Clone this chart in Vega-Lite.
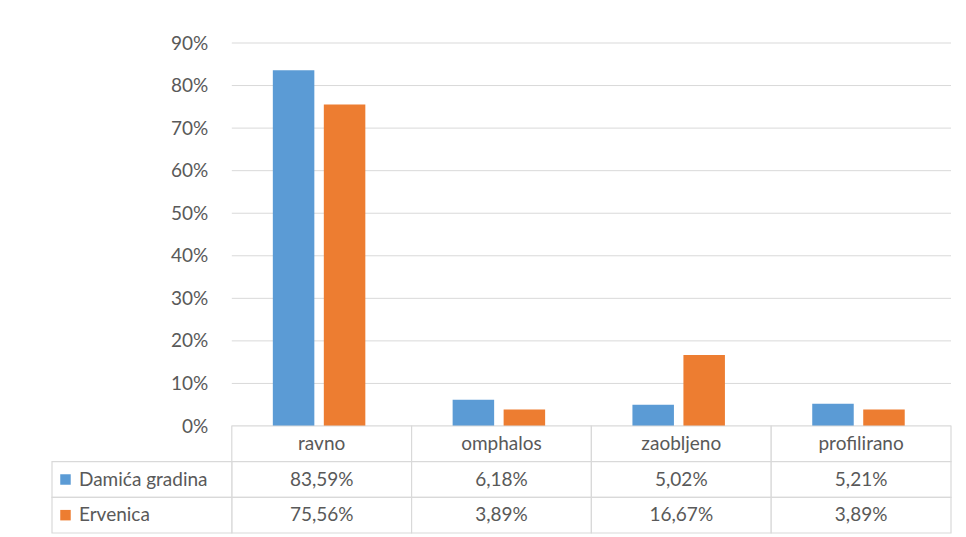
{
  "$schema": "https://vega.github.io/schema/vega-lite/v6.json",
  "padding": {"left": 51, "top": 34, "right": 16, "bottom": 2},
  "background": "white",
  "config": {
    "locale": {"number": {"decimal": ",", "thousands": ".", "grouping": [3], "currency": ["", " €"]}},
    "view": {"stroke": null},
    "font": "Lato"
  },
  "datasets": {
    "shares": [
      {"category": "ravno", "series": "Damića gradina", "value": 0.8359},
      {"category": "omphalos", "series": "Damića gradina", "value": 0.0618},
      {"category": "zaobljeno", "series": "Damića gradina", "value": 0.0502},
      {"category": "profilirano", "series": "Damića gradina", "value": 0.0521},
      {"category": "ravno", "series": "Ervenica", "value": 0.7556},
      {"category": "omphalos", "series": "Ervenica", "value": 0.0389},
      {"category": "zaobljeno", "series": "Ervenica", "value": 0.1667},
      {"category": "profilirano", "series": "Ervenica", "value": 0.0389}
    ],
    "grid": [
      {"v": 0}, {"v": 0.1}, {"v": 0.2}, {"v": 0.3}, {"v": 0.4},
      {"v": 0.5}, {"v": 0.6}, {"v": 0.7}, {"v": 0.8}, {"v": 0.9}
    ]
  },
  "spacing": 0,
  "bounds": "flush",
  "vconcat": [
    {
      "width": 899,
      "height": 383,
      "layer": [
        {
          "data": {"name": "grid"},
          "mark": {"type": "rule", "color": "#d9d9d9", "strokeWidth": 1},
          "encoding": {
            "y": {
              "field": "v", "type": "quantitative",
              "scale": {"domain": [0, 0.9], "nice": false, "zero": true},
              "axis": {"offset": -179.8, "domain": false, "ticks": false, "grid": false, "labelPadding": 24, "format": ".0%", "values": [0, 0.1, 0.2, 0.3, 0.4, 0.5, 0.6, 0.7, 0.8, 0.9], "labelFontSize": 19, "labelColor": "#595959", "labelFont": "Lato", "title": null}
            },
            "x": {"datum": "ravno", "type": "nominal", "bandPosition": 0,
              "scale": {"domain": ["legenda", "ravno", "omphalos", "zaobljeno", "profilirano"], "paddingInner": 0, "paddingOuter": 0},
              "axis": null},
            "x2": {"datum": "profilirano", "bandPosition": 1}
          }
        },
        {
          "data": {"name": "shares"},
          "mark": {"type": "bar"},
          "encoding": {
            "x": {"field": "category", "type": "nominal",
              "scale": {"domain": ["legenda", "ravno", "omphalos", "zaobljeno", "profilirano"], "paddingInner": 0, "paddingOuter": 0},
              "axis": null},
            "xOffset": {"field": "series", "type": "nominal",
              "scale": {"domain": ["Damića gradina", "Ervenica"], "paddingInner": 0.186, "paddingOuter": 0.856, "align": 0.47}},
            "y": {"field": "value", "type": "quantitative",
              "scale": {"domain": [0, 0.9], "nice": false, "zero": true},
              "axis": {"offset": -179.8, "domain": false, "ticks": false, "grid": false, "labelPadding": 24, "format": ".0%", "values": [0, 0.1, 0.2, 0.3, 0.4, 0.5, 0.6, 0.7, 0.8, 0.9], "labelFontSize": 19, "labelColor": "#595959", "labelFont": "Lato", "title": null}},
            "color": {"field": "series", "type": "nominal",
              "scale": {"domain": ["Damića gradina", "Ervenica"], "range": ["#5B9BD5", "#ED7D31"]},
              "legend": null}
          }
        }
      ]
    },
    {
      "width": 899,
      "height": 107,
      "data": {"name": "shares"},
      "encoding": {
        "x": {"field": "category", "type": "nominal",
          "scale": {"domain": ["legenda", "ravno", "omphalos", "zaobljeno", "profilirano"], "paddingInner": 0, "paddingOuter": 0},
          "axis": null}
      },
      "layer": [
        {
          "transform": [{"filter": "datum.series === 'Damića gradina'"}],
          "mark": {"type": "rect", "fill": "white", "stroke": "#d9d9d9", "strokeWidth": 1.2},
          "encoding": {
            "y": {"datum": "zaglavlje", "type": "nominal",
              "scale": {"domain": ["zaglavlje", "Damića gradina", "Ervenica"], "paddingInner": 0, "paddingOuter": 0},
              "axis": null}
          }
        },
        {
          "transform": [{"filter": "datum.series === 'Damića gradina'"}],
          "mark": {"type": "text", "fontSize": 19, "color": "#595959", "font": "Lato", "baseline": "middle"},
          "encoding": {
            "y": {"datum": "zaglavlje", "type": "nominal"},
            "text": {"field": "category"}
          }
        },
        {
          "mark": {"type": "rect", "fill": "white", "stroke": "#d9d9d9", "strokeWidth": 1.2},
          "encoding": {
            "y": {"field": "series", "type": "nominal"}
          }
        },
        {
          "mark": {"type": "text", "fontSize": 19, "color": "#595959", "font": "Lato", "baseline": "middle"},
          "encoding": {
            "y": {"field": "series", "type": "nominal"},
            "text": {"field": "value", "type": "quantitative", "format": ".2%"}
          }
        },
        {
          "transform": [{"filter": "datum.category === 'ravno'"}],
          "mark": {"type": "rect", "fill": "white", "stroke": "#d9d9d9", "strokeWidth": 1.2},
          "encoding": {
            "x": {"datum": "legenda", "type": "nominal"},
            "y": {"field": "series", "type": "nominal"}
          }
        },
        {
          "transform": [{"filter": "datum.category === 'ravno'"}],
          "mark": {"type": "square", "size": 110, "opacity": 1, "filled": true},
          "encoding": {
            "x": {"datum": "legenda", "type": "nominal", "bandPosition": 0.075},
            "y": {"field": "series", "type": "nominal"},
            "color": {"field": "series", "type": "nominal",
              "scale": {"domain": ["Damića gradina", "Ervenica"], "range": ["#5B9BD5", "#ED7D31"]},
              "legend": null}
          }
        },
        {
          "transform": [{"filter": "datum.category === 'ravno'"}],
          "mark": {"type": "text", "fontSize": 19, "color": "#595959", "font": "Lato", "baseline": "middle", "align": "left"},
          "encoding": {
            "x": {"datum": "legenda", "type": "nominal", "bandPosition": 0.15},
            "y": {"field": "series", "type": "nominal"},
            "text": {"field": "series"}
          }
        }
      ]
    }
  ]
}
